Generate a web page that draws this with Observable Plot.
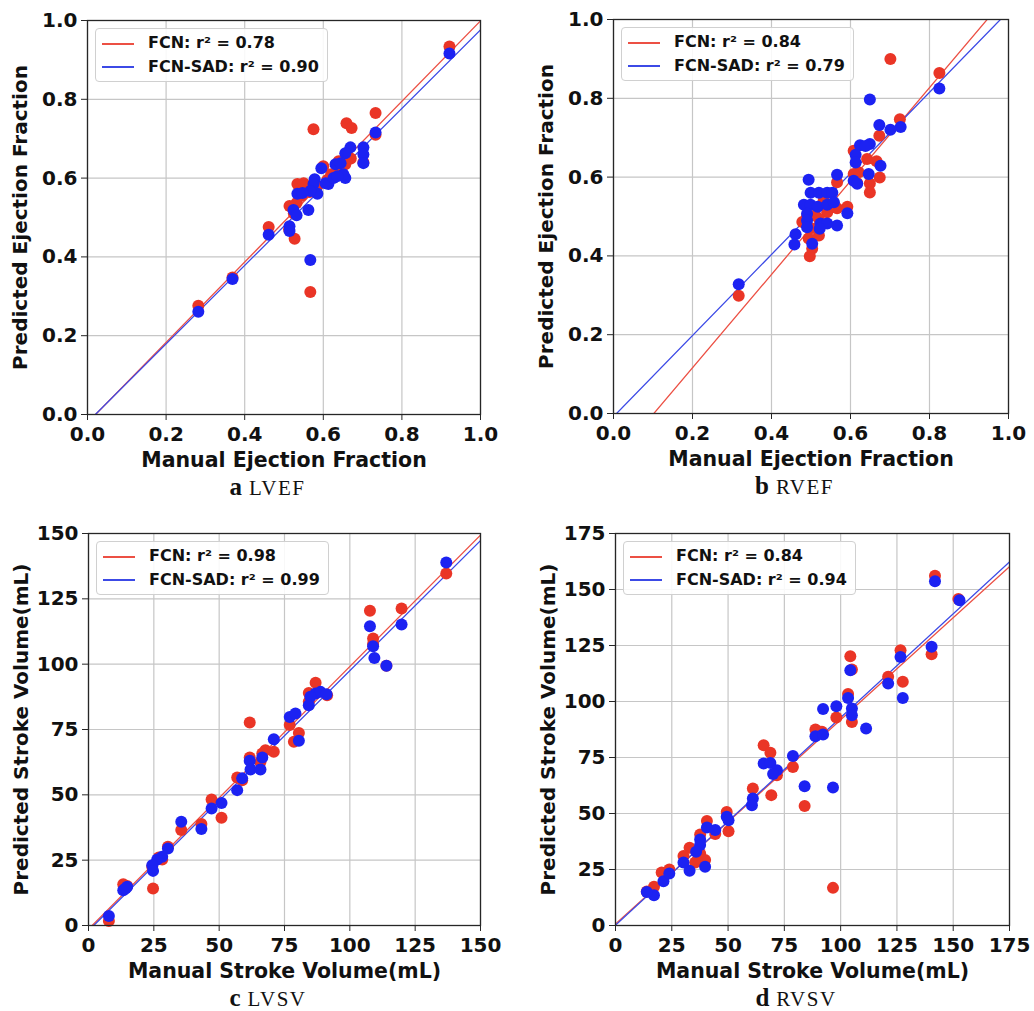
<!DOCTYPE html>
<html>
<head>
<meta charset="utf-8">
<script src="https://cdn.jsdelivr.net/npm/d3@7"></script>
<script src="https://cdn.jsdelivr.net/npm/@observablehq/plot@0.6"></script>
<style>
  body { margin: 0; background: #fff; }
  #fig { position: relative; width: 1034px; height: 1011px; overflow: hidden; background: #fff; }
  .panel { position: absolute; width: 517px; height: 498px; }
  .panel svg { position: absolute; left: 0; top: 0; overflow: visible; }
  .legend { position: absolute; width: 231px; height: 52px; background: rgba(255,255,255,0.88);
            border: 1px solid #d0d0d0; border-radius: 4px; font: bold 16px "DejaVu Sans"; color: #111; }
  .legend .sample { position: absolute; left: 6px; width: 32px; height: 1.5px; }
  .legend .lab { position: absolute; left: 52px; line-height: 16px; white-space: nowrap; }
  .caption { position: absolute; width: 300px; text-align: center; font-family: "Liberation Serif", serif;
             line-height: 24px; color: #111; white-space: nowrap; }
  .caption b { font-size: 25px; }
  .caption span { font-size: 21px; letter-spacing: 1.5px; margin-left: 7px; }
</style>
</head>
<body>
<div id="fig"></div>
<script>
// ---------- data ----------
const efTicks = [0, 0.2, 0.4, 0.6, 0.8, 1.0];
const lvsvTicks = [0, 25, 50, 75, 100, 125, 150];
const rvsvTicks = [0, 25, 50, 75, 100, 125, 150, 175];

const seriesNames = ["FCN", "FCN-SAD"];
const panelLetters = ["a", "b", "c", "d"];
const panelNames = ["LVEF", "RVEF", "LVSV", "RVSV"];
const r2FCN = ["0.78", "0.84", "0.98", "0.84"];
const r2SAD = ["0.90", "0.79", "0.99", "0.94"];

// fitted lines: [slope, intercept]
const fitFCN = [[1.02, -0.021], [1.185, -0.121], [1.005, -1.4], [0.911, 0.72]];
const fitSAD = [[0.996, -0.02], [1.029, -0.008], [0.995, -2.0], [0.927, 0.14]];

// a LVEF
const lvefFcnX = [0.921, 0.733, 0.575, 0.659, 0.672, 0.733, 0.702, 0.639, 0.656, 0.600, 0.534, 0.550, 0.514, 0.532, 0.527, 0.461, 0.567, 0.369, 0.282, 0.620, 0.585, 0.545, 0.640, 0.525, 0.610, 0.670, 0.565, 0.513];
const lvefFcnY = [0.934, 0.765, 0.724, 0.739, 0.727, 0.710, 0.640, 0.643, 0.635, 0.630, 0.585, 0.587, 0.529, 0.537, 0.446, 0.476, 0.311, 0.348, 0.276, 0.610, 0.580, 0.555, 0.625, 0.510, 0.595, 0.650, 0.565, 0.470];
const lvefSadX = [0.921, 0.733, 0.702, 0.702, 0.702, 0.669, 0.656, 0.631, 0.644, 0.595, 0.656, 0.651, 0.613, 0.606, 0.626, 0.636, 0.578, 0.585, 0.575, 0.567, 0.534, 0.547, 0.524, 0.532, 0.562, 0.514, 0.514, 0.461, 0.567, 0.369, 0.282];
const lvefSadY = [0.916, 0.716, 0.678, 0.660, 0.638, 0.678, 0.663, 0.635, 0.638, 0.625, 0.600, 0.610, 0.585, 0.587, 0.600, 0.605, 0.597, 0.560, 0.585, 0.567, 0.560, 0.562, 0.519, 0.506, 0.519, 0.478, 0.466, 0.456, 0.392, 0.344, 0.261];

// b RVEF
const rvefFcnX = [0.701, 0.825, 0.725, 0.673, 0.608, 0.642, 0.666, 0.674, 0.649, 0.649, 0.621, 0.608, 0.617, 0.566, 0.532, 0.549, 0.566, 0.541, 0.592, 0.511, 0.520, 0.478, 0.520, 0.494, 0.503, 0.497, 0.317, 0.500, 0.490];
const rvefFcnY = [0.900, 0.864, 0.747, 0.705, 0.667, 0.646, 0.640, 0.599, 0.584, 0.561, 0.612, 0.608, 0.585, 0.587, 0.540, 0.523, 0.521, 0.511, 0.525, 0.503, 0.494, 0.486, 0.452, 0.444, 0.418, 0.399, 0.299, 0.470, 0.500];
const rvefSadX = [0.825, 0.649, 0.727, 0.701, 0.673, 0.649, 0.624, 0.638, 0.613, 0.613, 0.676, 0.646, 0.608, 0.617, 0.566, 0.494, 0.499, 0.520, 0.541, 0.554, 0.482, 0.499, 0.517, 0.541, 0.558, 0.592, 0.490, 0.490, 0.490, 0.524, 0.541, 0.566, 0.522, 0.461, 0.458, 0.503, 0.317];
const rvefSadY = [0.825, 0.797, 0.727, 0.720, 0.732, 0.684, 0.681, 0.679, 0.657, 0.637, 0.629, 0.608, 0.591, 0.583, 0.606, 0.593, 0.560, 0.560, 0.560, 0.560, 0.530, 0.530, 0.525, 0.530, 0.536, 0.508, 0.507, 0.490, 0.473, 0.482, 0.482, 0.477, 0.469, 0.455, 0.429, 0.431, 0.328];

// c LVSV
const lvsvFcnX = [136.9, 107.7, 119.8, 108.9, 114.0, 86.9, 84.3, 91.3, 84.3, 77.0, 80.5, 78.6, 61.7, 70.9, 67.7, 66.5, 61.7, 65.8, 56.9, 58.8, 47.1, 50.9, 35.5, 43.2, 30.4, 28.2, 26.9, 24.7, 13.3, 14.8, 7.8, 108.9, 24.4];
const lvsvFcnY = [134.7, 120.4, 121.3, 109.8, 99.4, 92.9, 89.0, 88.1, 85.6, 76.7, 73.7, 70.3, 77.7, 66.5, 67.1, 65.8, 64.3, 62.6, 56.6, 55.6, 48.2, 41.2, 36.5, 38.8, 30.1, 25.3, 26.0, 14.2, 15.8, 15.1, 1.7, 107.7, 22.5];
const lvsvSadX = [136.9, 107.7, 119.8, 108.9, 109.4, 114.0, 86.9, 88.8, 84.9, 84.3, 91.1, 77.0, 79.2, 80.5, 70.9, 66.5, 61.7, 62.0, 65.8, 58.8, 56.9, 47.1, 50.9, 35.5, 43.2, 30.4, 28.2, 26.3, 24.4, 24.7, 13.3, 14.8, 14.2, 7.8];
const lvsvSadY = [138.9, 114.5, 115.2, 106.9, 102.4, 99.4, 88.8, 89.4, 87.5, 84.3, 88.5, 79.8, 81.1, 70.7, 71.3, 64.3, 63.0, 59.7, 59.7, 56.3, 51.8, 44.8, 46.9, 39.7, 36.9, 29.5, 26.3, 25.3, 23.1, 20.9, 13.5, 14.8, 14.2, 3.6];

// d RVSV
const rvsvFcnX = [141.9, 152.3, 140.4, 126.6, 127.6, 121.1, 104.3, 105.0, 103.3, 105.0, 98.1, 88.8, 91.7, 65.8, 68.8, 71.7, 69.2, 78.8, 84.0, 96.6, 61.0, 49.4, 50.2, 40.6, 37.6, 44.3, 37.6, 39.8, 36.1, 35.4, 32.9, 30.2, 20.5, 23.9, 17.1, 13.9];
const rvsvFcnY = [156.1, 145.8, 121.1, 122.9, 108.8, 111.0, 120.2, 114.3, 103.3, 90.9, 92.9, 87.5, 86.5, 80.5, 77.1, 67.1, 58.2, 70.8, 53.3, 16.8, 61.2, 50.7, 42.1, 46.6, 40.6, 40.8, 32.1, 29.2, 28.7, 28.1, 34.7, 31.0, 23.7, 25.0, 17.3, 15.2];
const rvsvSadX = [141.9, 152.8, 140.4, 126.6, 127.6, 121.1, 104.3, 103.3, 105.0, 105.0, 111.3, 92.2, 98.1, 88.8, 92.2, 65.8, 68.8, 71.7, 70.0, 78.8, 84.0, 96.6, 61.0, 60.6, 49.4, 50.2, 40.6, 44.3, 37.6, 37.6, 35.8, 39.8, 32.9, 30.2, 21.3, 23.9, 17.1, 13.9];
const rvsvSadY = [153.7, 145.2, 124.4, 119.9, 101.6, 108.0, 114.0, 101.6, 96.9, 93.9, 87.9, 96.6, 97.9, 84.5, 85.3, 72.3, 72.6, 69.3, 67.6, 75.7, 62.2, 61.6, 56.7, 53.7, 48.5, 47.0, 43.8, 42.6, 38.4, 35.9, 32.9, 26.2, 24.4, 28.1, 19.8, 23.2, 13.5, 15.0];

const xLabels = ["Manual Ejection Fraction", "Manual Ejection Fraction", "Manual Stroke Volume(mL)", "Manual Stroke Volume(mL)"];
const yLabels = ["Predicted Ejection Fraction", "Predicted Ejection Fraction", "Predicted Stroke Volume(mL)", "Predicted Stroke Volume(mL)"];

// ---------- styles / layout ----------
const RED = "#ea3526", BLUE = "#1c22f2";
const RED_LINE = "#ec5044", BLUE_LINE = "#3c4ae6";

const layout = [
  {left: 0,   top: 0,   ml: 87, mt: 20, pw: 393, ph: 394},
  {left: 517, top: 0,   ml: 96, mt: 19, pw: 395, ph: 394},
  {left: 0,   top: 513, ml: 88, mt: 20, pw: 392, ph: 392},
  {left: 517, top: 513, ml: 98, mt: 20, pw: 394, ph: 392}
];

const panels = [
  {domain: [0, 1], ticks: efTicks, fmt: d3.format(".1f"), fx: lvefFcnX, fy: lvefFcnY, sx: lvefSadX, sy: lvefSadY},
  {domain: [0, 1], ticks: efTicks, fmt: d3.format(".1f"), fx: rvefFcnX, fy: rvefFcnY, sx: rvefSadX, sy: rvefSadY},
  {domain: [0, 150], ticks: lvsvTicks, fmt: d3.format("d"), fx: lvsvFcnX, fy: lvsvFcnY, sx: lvsvSadX, sy: lvsvSadY},
  {domain: [0, 175], ticks: rvsvTicks, fmt: d3.format("d"), fx: rvsvFcnX, fy: rvsvFcnY, sx: rvsvSadX, sy: rvsvSadY}
];

const fig = document.getElementById("fig");
const W = 517, H = 480;

panels.forEach((p, i) => {
  const L = layout[i];
  const fcn = p.fx.map((x, j) => ({x, y: p.fy[j]}));
  const sad = p.sx.map((x, j) => ({x, y: p.sy[j]}));
  const fitLine = ([slope, intercept]) => p.domain.map(x => ({x, y: intercept + slope * x}));

  const chart = Plot.plot({
    width: W, height: H,
    marginLeft: L.ml, marginTop: L.mt,
    marginRight: W - L.ml - L.pw, marginBottom: H - L.mt - L.ph,
    style: {fontFamily: "DejaVu Sans", fontWeight: "bold", fontSize: "20px", color: "#111", background: "transparent", overflow: "visible"},
    x: {domain: p.domain, label: null},
    y: {domain: p.domain, label: null},
    marks: [
      Plot.gridX(p.ticks, {stroke: "#c6c6c6", strokeOpacity: 1, strokeWidth: 1.2}),
      Plot.gridY(p.ticks, {stroke: "#c6c6c6", strokeOpacity: 1, strokeWidth: 1.2}),
      Plot.line(fitLine(fitFCN[i]), {x: "x", y: "y", stroke: RED_LINE, strokeWidth: 1.3, clip: true}),
      Plot.line(fitLine(fitSAD[i]), {x: "x", y: "y", stroke: BLUE_LINE, strokeWidth: 1.3, clip: true}),
      Plot.dot(fcn, {x: "x", y: "y", r: 6, fill: RED, stroke: "none"}),
      Plot.dot(sad, {x: "x", y: "y", r: 6, fill: BLUE, stroke: "none"}),
      Plot.frame({stroke: "#262626", strokeWidth: 1.3}),
      Plot.axisX(p.ticks, {tickFormat: p.fmt, tickSize: 6, tickPadding: 6, label: null, fontSize: 20, stroke: "#262626"}),
      Plot.axisY(p.ticks, {tickFormat: p.fmt, tickSize: 6, tickPadding: 4, label: null, fontSize: 20, stroke: "#262626"}),
      Plot.text([xLabels[i]], {frameAnchor: "bottom", dy: 46, text: d => d, fontSize: 20.5, fontWeight: "bold", lineAnchor: "middle", textAnchor: "middle"}),
      Plot.text([yLabels[i]], {frameAnchor: "left", dx: -67, text: d => d, rotate: -90, fontSize: 20, fontWeight: "bold", lineAnchor: "middle", textAnchor: "middle"})
    ]
  });

  const div = document.createElement("div");
  div.className = "panel";
  div.style.left = L.left + "px";
  div.style.top = L.top + "px";
  div.appendChild(chart);

  // legend
  const leg = document.createElement("div");
  leg.className = "legend";
  leg.style.left = (L.ml + 8) + "px";
  leg.style.top = (L.mt + 8) + "px";
  const rows = [[seriesNames[0], r2FCN[i], RED_LINE], [seriesNames[1], r2SAD[i], BLUE_LINE]];
  rows.forEach(([name, r2, col], k) => {
    const s = document.createElement("div");
    s.className = "sample";
    s.style.top = (k === 0 ? 14 : 37) + "px";
    s.style.background = col;
    leg.appendChild(s);
    const t = document.createElement("div");
    t.className = "lab";
    t.style.top = (k === 0 ? 6 : 29.5) + "px";
    t.textContent = `${name}: r² = ${r2}`;
    leg.appendChild(t);
  });
  div.appendChild(leg);

  // caption
  const cap = document.createElement("div");
  cap.className = "caption";
  cap.style.left = (L.ml + L.pw / 2 - 16 - 150) + "px";
  cap.style.top = (L.mt + L.ph + 61) + "px";
  cap.innerHTML = `<b>${panelLetters[i]}</b><span>${panelNames[i]}</span>`;
  div.appendChild(cap);

  fig.appendChild(div);
});
</script>
</body>
</html>
